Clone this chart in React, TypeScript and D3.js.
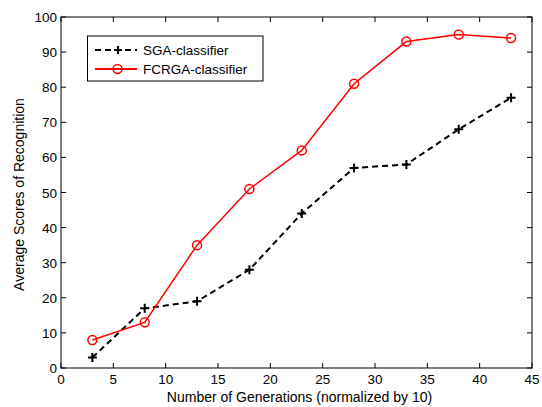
import React from "react";
import * as d3 from "d3";

const generations = [3, 8, 13, 18, 23, 28, 33, 38, 43];
const sgaScores = [3, 17, 19, 28, 44, 57, 58, 68, 77];
const fcrgaScores = [8, 13, 35, 51, 62, 81, 93, 95, 94];
const xTicks = [0, 5, 10, 15, 20, 25, 30, 35, 40, 45];
const yTicks = [0, 10, 20, 30, 40, 50, 60, 70, 80, 90, 100];
const seriesNames = ["SGA-classifier", "FCRGA-classifier"];

const W = 542, H = 407;
const M = { left: 61, right: 532, top: 17, bottom: 368 };
const FONT = "'Liberation Sans', Arial, Helvetica, sans-serif";
const TICK_FS = 13.5;
const LABEL_FS = 13.5;

export default function App() {
  const x = d3.scaleLinear().domain([0, 45]).range([M.left, M.right]);
  const y = d3.scaleLinear().domain([0, 100]).range([M.bottom, M.top]);
  const line = d3.line<number>().x((_, i) => x(generations[i])).y((d) => y(d));
  const tl = 5;

  const plus = (cx: number, cy: number, k: string, s = 4.5) => (
    <path key={k} d={`M${cx - s},${cy}H${cx + s}M${cx},${cy - s}V${cy + s}`} stroke="#000" strokeWidth={2} />
  );
  const circ = (cx: number, cy: number, k: string) => (
    <circle key={k} cx={cx} cy={cy} r={4.5} fill="none" stroke="#ff0000" strokeWidth={1.5} />
  );

  return (
    <svg width={W} height={H} style={{ position: "absolute", left: 0, top: 0, background: "#fff" }} fontFamily={FONT}>
      <rect x={0} y={0} width={W} height={H} fill="#fff" />
      {xTicks.map((t) => (
        <g key={"x" + t}>
          <line x1={x(t)} x2={x(t)} y1={M.bottom} y2={M.bottom - tl} stroke="#000" />
          <line x1={x(t)} x2={x(t)} y1={M.top} y2={M.top + tl} stroke="#000" />
          <text x={x(t)} y={M.bottom + 16} textAnchor="middle" fontSize={TICK_FS} fill="#000">{t}</text>
        </g>
      ))}
      {yTicks.map((t) => (
        <g key={"y" + t}>
          <line x1={M.left} x2={M.left + tl} y1={y(t)} y2={y(t)} stroke="#000" />
          <line x1={M.right} x2={M.right - tl} y1={y(t)} y2={y(t)} stroke="#000" />
          <text x={M.left - 4} y={y(t) + 5} textAnchor="end" fontSize={TICK_FS} fill="#000">{t}</text>
        </g>
      ))}
      <rect x={M.left} y={M.top} width={M.right - M.left} height={M.bottom - M.top} fill="none" stroke="#000" />
      <path d={line(sgaScores) || ""} fill="none" stroke="#000" strokeWidth={2} strokeDasharray="6,4" />
      <path d={line(fcrgaScores) || ""} fill="none" stroke="#ff0000" strokeWidth={1.5} />
      {sgaScores.map((v, i) => plus(x(generations[i]), y(v), "p" + i))}
      {fcrgaScores.map((v, i) => circ(x(generations[i]), y(v), "c" + i))}
      <rect x={87.5} y={36} width={175.5} height={45} fill="#fff" stroke="#000" />
      <line x1={95} x2={137} y1={50} y2={50} stroke="#000" strokeWidth={2} strokeDasharray="6,4" />
      {plus(118, 50, "lp", 4)}
      <text x={143} y={55} fontSize={LABEL_FS} fill="#000">{seriesNames[0]}</text>
      <line x1={95} x2={137} y1={69} y2={69} stroke="#ff0000" strokeWidth={2} />
      {circ(117.5, 69, "lc")}
      <text x={143} y={74} fontSize={LABEL_FS} fill="#000">{seriesNames[1]}</text>
      <text x={(M.left + M.right) / 2 + 3} y={402} textAnchor="middle" fontSize={14} fill="#000">
        Number of Generations (normalized by 10)
      </text>
      <text transform={`translate(24,${(M.top + M.bottom) / 2 + 2}) rotate(-90)`} textAnchor="middle" fontSize={14} fill="#000">
        Average Scores of Recognition
      </text>
    </svg>
  );
}
